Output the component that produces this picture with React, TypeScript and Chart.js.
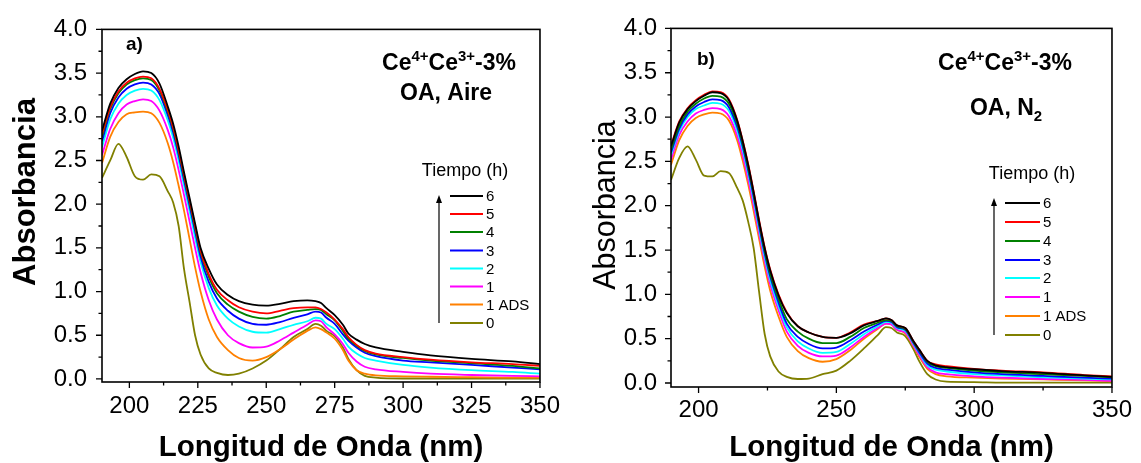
import React, { useEffect, useRef } from 'react';
import { Chart, registerables } from 'chart.js';

Chart.register(...registerables);

const FONT = '"Liberation Sans", Arial, Helvetica, sans-serif';

// Wavelength grid (nm) shared by every spectrum
const wavelengths = [190, 193, 196, 199, 202, 205, 208, 211, 214, 216, 218, 220, 222, 224, 226, 229, 232, 236, 240, 245, 250, 255, 260, 265, 268, 270, 272, 275, 278, 280, 283, 286, 290, 300, 310, 325, 340, 350];

const seriesLabels = ['6', '5', '4', '3', '2', '1', '1 ADS', '0'];
const seriesColors = ['#000000', '#ff0000', '#008000', '#0000ff', '#00ffff', '#ff00ff', '#ff8000', '#808000'];

const yTicks = [0, 0.5, 1.0, 1.5, 2.0, 2.5, 3.0, 3.5, 4.0];
const yMinorTicks = [0.25, 0.75, 1.25, 1.75, 2.25, 2.75, 3.25, 3.75];
const xTicksA = [200, 225, 250, 275, 300, 325, 350];
const xMinorTicksA = [212.5, 237.5, 262.5, 287.5, 312.5, 337.5];
const xTicksB = [200, 250, 300, 350];
const xMinorTicksB = [225, 275, 325];

// Panel a) OA, Aire
const airT6 = [2.84, 3.15, 3.33, 3.43, 3.49, 3.52, 3.50, 3.38, 3.12, 2.92, 2.66, 2.36, 2.07, 1.78, 1.50, 1.26, 1.08, 0.96, 0.89, 0.85, 0.84, 0.86, 0.89, 0.90, 0.89, 0.87, 0.81, 0.73, 0.62, 0.52, 0.45, 0.40, 0.36, 0.31, 0.27, 0.23, 0.20, 0.17];
const airT5 = [2.80, 3.11, 3.29, 3.39, 3.44, 3.46, 3.44, 3.32, 3.08, 2.88, 2.62, 2.33, 2.04, 1.75, 1.47, 1.20, 1.02, 0.90, 0.82, 0.77, 0.75, 0.78, 0.81, 0.82, 0.82, 0.80, 0.76, 0.68, 0.57, 0.48, 0.39, 0.33, 0.29, 0.25, 0.22, 0.19, 0.17, 0.15];
const airT4 = [2.77, 3.09, 3.27, 3.37, 3.42, 3.44, 3.42, 3.30, 3.06, 2.86, 2.60, 2.31, 2.02, 1.73, 1.45, 1.17, 0.98, 0.85, 0.77, 0.71, 0.69, 0.72, 0.77, 0.79, 0.80, 0.79, 0.74, 0.67, 0.55, 0.46, 0.38, 0.32, 0.28, 0.24, 0.21, 0.18, 0.15, 0.12];
const airT3 = [2.72, 3.04, 3.22, 3.32, 3.37, 3.39, 3.37, 3.26, 3.02, 2.82, 2.56, 2.27, 1.98, 1.69, 1.40, 1.11, 0.92, 0.78, 0.69, 0.63, 0.62, 0.65, 0.70, 0.74, 0.77, 0.76, 0.70, 0.63, 0.51, 0.44, 0.36, 0.30, 0.26, 0.21, 0.19, 0.16, 0.13, 0.11];
const airT2 = [2.65, 2.97, 3.15, 3.25, 3.30, 3.32, 3.30, 3.19, 2.96, 2.76, 2.50, 2.21, 1.92, 1.62, 1.34, 1.04, 0.84, 0.69, 0.60, 0.54, 0.53, 0.57, 0.62, 0.66, 0.70, 0.69, 0.63, 0.57, 0.46, 0.37, 0.29, 0.24, 0.21, 0.16, 0.13, 0.10, 0.08, 0.06];
const airT1 = [2.56, 2.86, 3.04, 3.14, 3.18, 3.20, 3.18, 3.07, 2.85, 2.65, 2.39, 2.10, 1.80, 1.50, 1.22, 0.90, 0.68, 0.50, 0.41, 0.36, 0.37, 0.44, 0.53, 0.62, 0.67, 0.66, 0.59, 0.51, 0.40, 0.30, 0.20, 0.14, 0.11, 0.08, 0.06, 0.045, 0.035, 0.03];
const airT1ADS = [2.47, 2.77, 2.94, 3.03, 3.05, 3.06, 3.04, 2.93, 2.70, 2.48, 2.21, 1.92, 1.60, 1.28, 1.00, 0.68, 0.48, 0.33, 0.24, 0.21, 0.25, 0.34, 0.45, 0.55, 0.59, 0.57, 0.53, 0.46, 0.33, 0.21, 0.10, 0.06, 0.04, 0.03, 0.025, 0.02, 0.015, 0.015];
const airT0 = [2.30, 2.50, 2.69, 2.54, 2.32, 2.28, 2.34, 2.32, 2.15, 2.02, 1.75, 1.25, 0.88, 0.50, 0.28, 0.12, 0.07, 0.045, 0.06, 0.12, 0.21, 0.34, 0.48, 0.57, 0.63, 0.61, 0.55, 0.49, 0.36, 0.23, 0.10, 0.035, 0.015, 0.005, 0.005, 0.005, 0.005, 0.005];

// Panel b) OA, N2
const n2T6 = [2.67, 2.94, 3.09, 3.18, 3.24, 3.28, 3.27, 3.19, 2.96, 2.73, 2.46, 2.15, 1.82, 1.52, 1.27, 0.99, 0.79, 0.64, 0.57, 0.52, 0.51, 0.56, 0.65, 0.70, 0.73, 0.71, 0.65, 0.62, 0.47, 0.38, 0.25, 0.20, 0.18, 0.155, 0.135, 0.115, 0.085, 0.07];
const n2T5 = [2.68, 2.95, 3.10, 3.19, 3.25, 3.29, 3.28, 3.20, 2.97, 2.74, 2.47, 2.16, 1.83, 1.53, 1.28, 1.00, 0.80, 0.64, 0.57, 0.52, 0.51, 0.57, 0.66, 0.70, 0.73, 0.71, 0.65, 0.62, 0.47, 0.38, 0.25, 0.21, 0.19, 0.16, 0.14, 0.12, 0.09, 0.075];
const n2T4 = [2.63, 2.90, 3.06, 3.15, 3.21, 3.24, 3.23, 3.15, 2.93, 2.70, 2.43, 2.13, 1.80, 1.49, 1.23, 0.95, 0.72, 0.58, 0.50, 0.45, 0.45, 0.52, 0.62, 0.68, 0.71, 0.70, 0.64, 0.61, 0.46, 0.37, 0.24, 0.19, 0.17, 0.14, 0.12, 0.10, 0.08, 0.065];
const n2T3 = [2.60, 2.87, 3.03, 3.12, 3.17, 3.20, 3.19, 3.11, 2.89, 2.67, 2.40, 2.10, 1.77, 1.46, 1.20, 0.91, 0.67, 0.52, 0.44, 0.39, 0.40, 0.48, 0.58, 0.66, 0.70, 0.69, 0.63, 0.60, 0.45, 0.35, 0.22, 0.17, 0.15, 0.12, 0.10, 0.08, 0.06, 0.05];
const n2T2 = [2.57, 2.84, 3.00, 3.09, 3.13, 3.16, 3.15, 3.07, 2.85, 2.63, 2.36, 2.06, 1.73, 1.42, 1.16, 0.87, 0.63, 0.47, 0.39, 0.34, 0.35, 0.44, 0.55, 0.64, 0.69, 0.68, 0.62, 0.59, 0.44, 0.34, 0.20, 0.15, 0.13, 0.10, 0.085, 0.065, 0.05, 0.04];
const n2T1 = [2.52, 2.80, 2.95, 3.04, 3.08, 3.10, 3.09, 3.01, 2.79, 2.57, 2.30, 2.00, 1.68, 1.37, 1.11, 0.82, 0.58, 0.42, 0.34, 0.30, 0.31, 0.40, 0.52, 0.62, 0.67, 0.66, 0.60, 0.57, 0.42, 0.32, 0.18, 0.12, 0.10, 0.075, 0.06, 0.045, 0.035, 0.025];
const n2T1ADS = [2.46, 2.74, 2.90, 2.99, 3.03, 3.05, 3.04, 2.96, 2.74, 2.51, 2.24, 1.94, 1.62, 1.31, 1.04, 0.75, 0.52, 0.36, 0.28, 0.24, 0.27, 0.37, 0.50, 0.61, 0.67, 0.66, 0.60, 0.56, 0.41, 0.30, 0.16, 0.10, 0.075, 0.06, 0.05, 0.04, 0.03, 0.02];
const n2T0 = [2.29, 2.54, 2.67, 2.52, 2.34, 2.33, 2.39, 2.37, 2.20, 2.06, 1.82, 1.52, 1.02, 0.55, 0.30, 0.13, 0.07, 0.045, 0.05, 0.10, 0.14, 0.25, 0.39, 0.54, 0.63, 0.62, 0.57, 0.53, 0.38, 0.25, 0.10, 0.04, 0.015, 0.01, 0.005, 0.005, 0.005, 0.005];

const airSeries = [airT6, airT5, airT4, airT3, airT2, airT1, airT1ADS, airT0];
const n2Series = [n2T6, n2T5, n2T4, n2T3, n2T2, n2T1, n2T1ADS, n2T0];

type Seg = { t: string; k?: 'sup' | 'sub' };

type PanelCfg = {
  left: number;
  width: number;
  height: number;
  padTop: number;
  padRight: number;
  yAxisWidth: number;
  xAxisHeight: number;
  yMin: number;
  xTicks: number[];
  xMinor: number[];
  xTickPad: number;
  yTickPad: number;
  yTitleBold: boolean;
  yTitleSize: number;
  yTitleX: number;
  yTitleY: number;
  values: number[][];
  tag: string;
  tagX: number;
  tagY: number;
  line1: Seg[];
  line1X: number;
  line1Y: number;
  line2: Seg[];
  line2X: number;
  line2Y: number;
  legTitleX: number;
  legTitleY: number;
  legX0: number;
  legX1: number;
  legYs: number[];
  arrowX: number;
  arrowTop: number;
  arrowBottom: number;
};

function drawRich(ctx: CanvasRenderingContext2D, segs: Seg[], cx: number, baseline: number, size: number) {
  const small = size * 0.65;
  const widths = segs.map((s) => {
    ctx.font = `bold ${s.k ? small : size}px ${FONT}`;
    return ctx.measureText(s.t).width;
  });
  const total = widths.reduce((a, b) => a + b, 0);
  let x = cx - total / 2;
  ctx.textAlign = 'left';
  ctx.textBaseline = 'alphabetic';
  segs.forEach((s, i) => {
    ctx.font = `bold ${s.k ? small : size}px ${FONT}`;
    const dy = s.k === 'sup' ? -0.4 * size : s.k === 'sub' ? 0.28 * size : 0;
    ctx.fillText(s.t, x, baseline + dy);
    x += widths[i];
  });
}

function decorPlugin(cfg: PanelCfg) {
  return {
    id: 'decor',
    afterDraw(chart: any) {
      const { ctx, chartArea: ca, scales } = chart;
      const xs = scales.x;
      const ys = scales.y;
      ctx.save();
      // frame
      ctx.strokeStyle = '#000';
      ctx.lineWidth = 1.6;
      ctx.strokeRect(ca.left, ca.top, ca.right - ca.left, ca.bottom - ca.top);
      // tick marks
      ctx.lineWidth = 1.3;
      ctx.beginPath();
      cfg.xTicks.forEach((v) => {
        const p = xs.getPixelForValue(v);
        ctx.moveTo(p, ca.bottom);
        ctx.lineTo(p, ca.bottom + 6);
      });
      cfg.xMinor.forEach((v) => {
        const p = xs.getPixelForValue(v);
        ctx.moveTo(p, ca.bottom);
        ctx.lineTo(p, ca.bottom + 3.5);
      });
      yTicks.forEach((v) => {
        const p = ys.getPixelForValue(v);
        ctx.moveTo(ca.left, p);
        ctx.lineTo(ca.left - 6, p);
      });
      yMinorTicks.forEach((v) => {
        const p = ys.getPixelForValue(v);
        ctx.moveTo(ca.left, p);
        ctx.lineTo(ca.left - 3.5, p);
      });
      ctx.stroke();

      ctx.fillStyle = '#000';
      // y axis title
      ctx.save();
      ctx.translate(cfg.yTitleX, cfg.yTitleY);
      ctx.rotate(-Math.PI / 2);
      ctx.font = `${cfg.yTitleBold ? 'bold ' : ''}${cfg.yTitleSize}px ${FONT}`;
      ctx.textAlign = 'center';
      ctx.textBaseline = 'middle';
      ctx.fillText('Absorbancia', 0, 0);
      ctx.restore();

      // panel tag
      ctx.font = `bold 19px ${FONT}`;
      ctx.textAlign = 'left';
      ctx.textBaseline = 'alphabetic';
      ctx.fillText(cfg.tag, cfg.tagX, cfg.tagY);
      // titles
      drawRich(ctx, cfg.line1, cfg.line1X, cfg.line1Y, 23);
      drawRich(ctx, cfg.line2, cfg.line2X, cfg.line2Y, 23);

      // legend
      ctx.font = `18px ${FONT}`;
      ctx.textAlign = 'center';
      ctx.textBaseline = 'middle';
      ctx.fillText('Tiempo (h)', cfg.legTitleX, cfg.legTitleY);
      ctx.font = `15px ${FONT}`;
      ctx.textAlign = 'left';
      seriesLabels.forEach((lab, i) => {
        const y = cfg.legYs[i];
        ctx.strokeStyle = seriesColors[i];
        ctx.lineWidth = 2;
        ctx.beginPath();
        ctx.moveTo(cfg.legX0, y);
        ctx.lineTo(cfg.legX1, y);
        ctx.stroke();
        ctx.fillStyle = '#000';
        ctx.fillText(lab, cfg.legX1 + 3, y + 1);
      });
      // arrow
      ctx.strokeStyle = '#000';
      ctx.lineWidth = 1.2;
      ctx.beginPath();
      ctx.moveTo(cfg.arrowX, cfg.arrowBottom);
      ctx.lineTo(cfg.arrowX, cfg.arrowTop + 6);
      ctx.stroke();
      ctx.beginPath();
      ctx.moveTo(cfg.arrowX, cfg.arrowTop);
      ctx.lineTo(cfg.arrowX - 3, cfg.arrowTop + 8);
      ctx.lineTo(cfg.arrowX + 3, cfg.arrowTop + 8);
      ctx.closePath();
      ctx.fill();
      ctx.restore();
    },
  };
}

function Panel({ cfg }: { cfg: PanelCfg }) {
  const ref = useRef<HTMLCanvasElement>(null);
  useEffect(() => {
    const canvas = ref.current;
    if (!canvas) return;
    const chart = new Chart(canvas, {
      type: 'line',
      data: {
        datasets: cfg.values.map((vals, i) => ({
          label: seriesLabels[i],
          data: wavelengths.map((w, j) => ({ x: w, y: vals[j] })),
          borderColor: seriesColors[i],
          backgroundColor: seriesColors[i],
          borderWidth: 1.8,
          pointRadius: 0,
          fill: false,
          cubicInterpolationMode: 'monotone' as const,
        })),
      },
      options: {
        animation: false,
        responsive: false,
        devicePixelRatio: 1,
        layout: { padding: { top: cfg.padTop, right: cfg.padRight, left: 0, bottom: 0 } },
        plugins: { legend: { display: false }, tooltip: { enabled: false } },
        scales: {
          x: {
            type: 'linear',
            min: 190,
            max: 350,
            afterBuildTicks: (s: any) => {
              s.ticks = cfg.xTicks.map((v) => ({ value: v }));
            },
            afterFit: (s: any) => {
              s.height = cfg.xAxisHeight;
            },
            grid: { display: false, drawTicks: false },
            border: { display: false },
            ticks: {
              autoSkip: false,
              maxRotation: 0,
              padding: cfg.xTickPad,
              color: '#000',
              font: { family: FONT, size: 24 },
              callback: (v: any) => String(v),
            },
            title: {
              display: true,
              text: 'Longitud de Onda (nm)',
              color: '#000',
              font: { family: FONT, size: 29.5, weight: 'bold', lineHeight: 1 },
              padding: { top: 0, bottom: 0 },
            },
          },
          y: {
            type: 'linear',
            min: cfg.yMin,
            max: 4,
            afterBuildTicks: (s: any) => {
              s.ticks = yTicks.map((v) => ({ value: v }));
            },
            afterFit: (s: any) => {
              s.width = cfg.yAxisWidth;
            },
            grid: { display: false, drawTicks: false },
            border: { display: false },
            ticks: {
              autoSkip: false,
              padding: cfg.yTickPad,
              color: '#000',
              font: { family: FONT, size: 24 },
              callback: (v: any) => Number(v).toFixed(1),
            },
            title: { display: false },
          },
        },
      } as any,
      plugins: [decorPlugin(cfg)],
    });
    return () => chart.destroy();
  }, [cfg]);
  return (
    <canvas
      ref={ref}
      width={cfg.width}
      height={cfg.height}
      style={{ position: 'absolute', left: cfg.left, top: 0, width: cfg.width, height: cfg.height }}
    />
  );
}

const panelA: PanelCfg = {
  left: 0,
  width: 570,
  height: 463,
  padTop: 24,
  padRight: 23,
  yAxisWidth: 102,
  xAxisHeight: 81,
  yMin: -0.035,
  xTicks: xTicksA,
  xMinor: xMinorTicksA,
  xTickPad: 10,
  yTickPad: 15,
  yTitleBold: true,
  yTitleSize: 31,
  yTitleX: 26,
  yTitleY: 192,
  values: airSeries,
  tag: 'a)',
  tagX: 126,
  tagY: 50,
  line1: [{ t: 'Ce' }, { t: '4+', k: 'sup' }, { t: 'Ce' }, { t: '3+', k: 'sup' }, { t: '-3%' }],
  line1X: 449,
  line1Y: 70,
  line2: [{ t: 'OA, Aire' }],
  line2X: 446,
  line2Y: 100,
  legTitleX: 465,
  legTitleY: 171,
  legX0: 450,
  legX1: 483,
  legYs: [196, 214, 232, 250.5, 268.5, 286.5, 304.5, 323],
  arrowX: 439,
  arrowTop: 195,
  arrowBottom: 323,
};

const panelB: PanelCfg = {
  left: 570,
  width: 571,
  height: 463,
  padTop: 27,
  padRight: 24,
  yAxisWidth: 101,
  xAxisHeight: 76,
  yMin: -0.045,
  xTicks: xTicksB,
  xMinor: xMinorTicksB,
  xTickPad: 9,
  yTickPad: 14,
  yTitleBold: false,
  yTitleSize: 30.5,
  yTitleX: 37,
  yTitleY: 205,
  values: n2Series,
  tag: 'b)',
  tagX: 127,
  tagY: 65,
  line1: [{ t: 'Ce' }, { t: '4+', k: 'sup' }, { t: 'Ce' }, { t: '3+', k: 'sup' }, { t: '-3%' }],
  line1X: 435,
  line1Y: 70,
  line2: [{ t: 'OA, N' }, { t: '2', k: 'sub' }],
  line2X: 436,
  line2Y: 115,
  legTitleX: 462,
  legTitleY: 174,
  legX0: 435,
  legX1: 470,
  legYs: [203, 222, 241, 260, 278, 297, 316, 335],
  arrowX: 424,
  arrowTop: 198,
  arrowBottom: 335,
};

export default function App() {
  return (
    <div style={{ position: 'absolute', left: 0, top: 0, width: 1141, height: 463, background: '#fff' }}>
      <Panel cfg={panelA} />
      <Panel cfg={panelB} />
    </div>
  );
}
